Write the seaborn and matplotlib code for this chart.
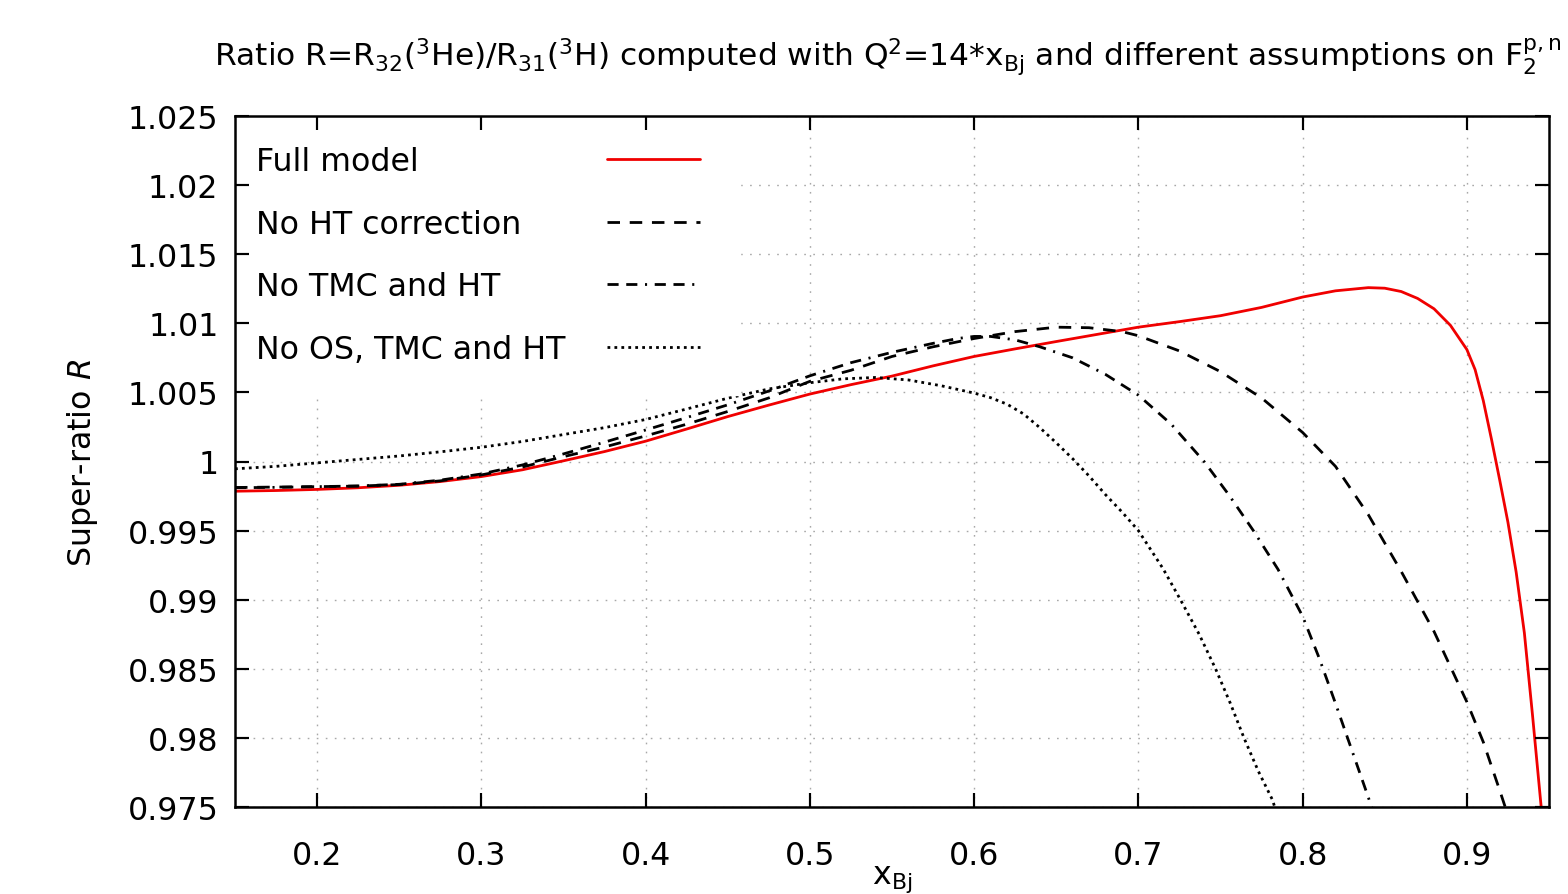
import numpy as np
import pandas as pd
import matplotlib
matplotlib.use("Agg")
import matplotlib.pyplot as plt
import seaborn as sns

# ---------------- data ----------------
x_full = [0.15, 0.175, 0.20, 0.225, 0.25, 0.275, 0.30, 0.325, 0.35, 0.375, 0.40, 0.425,
          0.45, 0.475, 0.50, 0.525, 0.55, 0.575, 0.60, 0.625, 0.65, 0.675, 0.70, 0.725,
          0.75, 0.775, 0.80, 0.82, 0.84, 0.85, 0.86, 0.87, 0.88, 0.89, 0.90, 0.905, 0.91,
          0.915, 0.92, 0.925, 0.93, 0.935, 0.94, 0.945, 0.9455]
r_full = [0.99785, 0.99790, 0.99798, 0.99810, 0.99828, 0.99855, 0.99891, 0.99940, 1.00005,
          1.00072, 1.00147, 1.00235, 1.00325, 1.00408, 1.00488, 1.00556, 1.00618, 1.00692,
          1.00760, 1.00815, 1.00868, 1.00920, 1.00972, 1.01012, 1.01055, 1.01115, 1.01190,
          1.01235, 1.01258, 1.01254, 1.01230, 1.01180, 1.01105, 1.00985, 1.00810, 1.00665,
          1.00440, 1.00160, 0.99865, 0.99560, 0.99200, 0.98760, 0.98160, 0.97530, 0.97470]

x_noht = [0.15, 0.175, 0.20, 0.225, 0.25, 0.275, 0.30, 0.325, 0.35, 0.375, 0.40, 0.425,
          0.45, 0.475, 0.50, 0.525, 0.55, 0.575, 0.60, 0.625, 0.65, 0.67, 0.69, 0.70,
          0.725, 0.75, 0.775, 0.80, 0.82, 0.84, 0.86, 0.88, 0.90, 0.91, 0.92, 0.925]
r_noht = [0.99812, 0.99815, 0.99818, 0.99822, 0.99833, 0.99860, 0.99903, 0.99960, 1.00035,
          1.00105, 1.00185, 1.00270, 1.00362, 1.00460, 1.00580, 1.00660, 1.00760, 1.00830,
          1.00890, 1.00940, 1.00972, 1.00968, 1.00940, 1.00910, 1.00800, 1.00650, 1.00460,
          1.00210, 0.99965, 0.99615, 0.99205, 0.98770, 0.98260, 0.97970, 0.97620, 0.97440]

x_notmc = [0.15, 0.175, 0.20, 0.225, 0.25, 0.275, 0.30, 0.325, 0.35, 0.375, 0.40, 0.425,
           0.45, 0.475, 0.50, 0.525, 0.55, 0.575, 0.59, 0.60, 0.61, 0.625, 0.64, 0.66,
           0.68, 0.70, 0.72, 0.74, 0.755, 0.77, 0.785, 0.80, 0.81, 0.82, 0.83, 0.84, 0.845]
r_notmc = [0.99810, 0.99813, 0.99818, 0.99823, 0.99835, 0.99865, 0.99910, 0.99975, 1.00055,
           1.00140, 1.00228, 1.00318, 1.00410, 1.00510, 1.00620, 1.00715, 1.00790, 1.00855,
           1.00890, 1.00905, 1.00905, 1.00880, 1.00830, 1.00750, 1.00630, 1.00480, 1.00270,
           1.00000, 0.99760, 0.99500, 0.99220, 0.98880, 0.98580, 0.98250, 0.97910, 0.97570,
           0.97390]

x_noos = [0.15, 0.175, 0.20, 0.225, 0.25, 0.275, 0.30, 0.325, 0.35, 0.375, 0.40, 0.425,
          0.45, 0.475, 0.50, 0.52, 0.54, 0.56, 0.58, 0.60, 0.61, 0.62, 0.63, 0.64, 0.65,
          0.66, 0.67, 0.68, 0.69, 0.70, 0.715, 0.7256, 0.737, 0.747, 0.756, 0.7643, 0.773,
          0.7817, 0.7835]
r_noos = [0.99947, 0.99965, 0.99990, 1.00015, 1.00040, 1.00070, 1.00103, 1.00145, 1.00195,
          1.00245, 1.00304, 1.00380, 1.00458, 1.00525, 1.00570, 1.00598, 1.00608, 1.00590,
          1.00548, 1.00495, 1.00462, 1.00415, 1.00345, 1.00245, 1.00135, 1.00020, 0.99895,
          0.99760, 0.99635, 0.99500, 0.99225, 0.99000, 0.98750, 0.98500, 0.98250, 0.98000,
          0.97760, 0.97550, 0.97480]

labels = ["Full model", "No HT correction", "No TMC and HT", "No OS, TMC and HT"]
xticks = [0.2, 0.3, 0.4, 0.5, 0.6, 0.7, 0.8, 0.9]
xticklabels = ["0.2", "0.3", "0.4", "0.5", "0.6", "0.7", "0.8", "0.9"]
yticks = [0.975, 0.98, 0.985, 0.99, 0.995, 1.0, 1.005, 1.01, 1.015, 1.02, 1.025]
yticklabels = ["0.975", "0.98", "0.985", "0.99", "0.995", "1", "1.005", "1.01", "1.015",
               "1.02", "1.025"]

# ---------------- style ----------------
sns.set_theme(style="ticks")
plt.rcParams["font.family"] = ["DejaVu Sans"]
plt.rcParams["mathtext.default"] = "regular"
plt.rcParams["lines.scale_dashes"] = False
for k in ["text.color", "axes.labelcolor", "xtick.color", "ytick.color",
          "xtick.labelcolor", "ytick.labelcolor", "axes.edgecolor"]:
    plt.rcParams[k] = "black"

FS = 22.8
W, H = 1568, 895
AX_W, AX_H = 1549 - 235, 808 - 117
fig = plt.figure(figsize=(W / 100, H / 100), dpi=100)
ax = fig.add_axes([235 / W, 1 - 808 / H, AX_W / W, AX_H / H])

# grid drawn underneath everything (dotted grey, at the major ticks)
ax.vlines(xticks, 0.975, 1.025, colors="#a8a8a8", linestyles=[(0, (1.2, 5.3))],
          linewidth=1.0, zorder=0.3)
ax.hlines(yticks, 0.15, 0.95, colors="#a8a8a8", linestyles=[(0, (1.2, 5.3))],
          linewidth=1.0, zorder=0.3)

series = [
    (x_full, r_full, "#f00000", "-"),
    (x_noht, r_noht, "black", (0, (9.0, 7.0))),
    (x_notmc, r_notmc, "black", (0, (8.0, 5.5, 8.0, 5.5, 1.5, 5.5))),
    (x_noos, r_noos, "black", (0, (2.0, 3.0))),
]
for xs, ys, col, ls in series:
    df = pd.DataFrame({"x": xs, "R": ys})
    sns.lineplot(data=df, x="x", y="R", ax=ax, color=col, linestyle=ls, linewidth=2.0,
                 estimator=None, sort=False, errorbar=None, zorder=2)
data_lines = list(ax.lines[-4:])

ax.set_xlim(0.15, 0.95)
ax.set_ylim(0.975, 1.025)
ax.set_xticks(xticks)
ax.set_xticklabels(xticklabels)
ax.set_yticks(yticks)
ax.set_yticklabels(yticklabels)
ax.set_axisbelow(False)
ax.tick_params(axis="x", which="major", direction="in", length=10, width=1.5,
               top=True, bottom=True, labelsize=FS, color="black", labelcolor="black",
               pad=24)
ax.tick_params(axis="y", which="major", direction="in", length=10, width=1.5,
               left=True, right=True, labelsize=FS, color="black", labelcolor="black",
               pad=12)
for s in ax.spines.values():
    s.set_linewidth(1.8)
    s.set_color("black")

# inward tick stubs on all four sides, drawn as segments in axes-fraction units
TL = 14.0  # tick length in pixels
fx = TL / AX_H
fy = TL / AX_W
xt = ax.get_xaxis_transform()
yt = ax.get_yaxis_transform()
ax.vlines(xticks, 0.0, fx, transform=xt, colors="black", linewidth=1.5, zorder=2.6)
ax.vlines(xticks, 1.0 - fx, 1.0, transform=xt, colors="black", linewidth=1.5, zorder=2.6)
ax.hlines(yticks, 0.0, fy, transform=yt, colors="black", linewidth=1.5, zorder=2.6)
ax.hlines(yticks, 1.0 - fy, 1.0, transform=yt, colors="black", linewidth=1.5, zorder=2.6)
ax.set_xlim(0.15, 0.95)
ax.set_ylim(0.975, 1.025)

ax.set_xlabel("x$_{Bj}$", fontsize=FS, labelpad=-6, color="black")
ax.set_ylabel("Super-ratio $\\mathit{R}$", fontsize=FS, labelpad=20, color="black")
fig.suptitle("Ratio R=R$_{32}$($^{3}$He)/R$_{31}$($^{3}$H) computed with Q$^{2}$=14*x$_{Bj}$"
             " and different assumptions on F$_{2}^{p,n}$", fontsize=22.5, x=888 / W,
             y=1 - 57 / H, va="center", color="black")

common = dict(loc="upper left", frameon=True, framealpha=1.0, facecolor="white",
              edgecolor="white", fancybox=False, fontsize=FS, borderpad=0.95,
              labelspacing=1.0, borderaxespad=0.0)
leg1 = ax.legend(data_lines, labels, bbox_to_anchor=(-9 / AX_W, 1.0), handlelength=0,
                 handletextpad=0, **common)
for h in leg1.legend_handles:
    h.set_visible(False)
leg1.set_zorder(2.2)
ax.add_artist(leg1)
leg2 = ax.legend(data_lines, [" "] * 4, bbox_to_anchor=((577 - 235) / AX_W, 1.0),
                 handlelength=2.93, handletextpad=0, **common)
leg2.set_zorder(2.2)

fig.savefig("out.png", dpi=100)
